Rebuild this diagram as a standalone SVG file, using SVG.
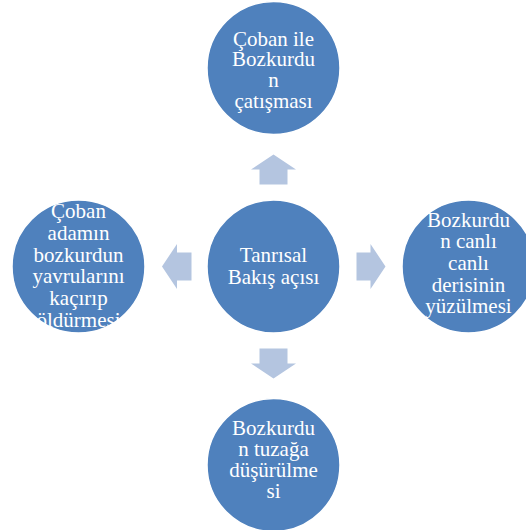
<svg xmlns="http://www.w3.org/2000/svg" width="526" height="530" viewBox="0 0 526 530">
  <style>
    .node circle { fill: #4F81BD; stroke: #FFFFFF; stroke-width: 1.5; }
    .node text { fill: #FFFFFF; font-family: "Liberation Serif", "Times New Roman", serif; font-size: 21px; text-anchor: middle; }
    .arrow { fill: #B4C5E0; }
  </style>
  <rect width="526" height="530" fill="#FFFFFF"/>
  <g id="connectors">
    <polygon class="arrow" points="273.5,154.5 296,169.5 287.5,169.5 287.5,184.5 259.5,184.5 259.5,169.5 251,169.5"/>
    <polygon class="arrow" points="273.5,378.5 296,363.5 287.5,363.5 287.5,348.5 259.5,348.5 259.5,363.5 251,363.5"/>
    <polygon class="arrow" points="162,266.5 177,244 177,252.5 191.5,252.5 191.5,280.5 177,280.5 177,289"/>
    <polygon class="arrow" points="385.5,266.5 370.5,244 370.5,252.5 356.5,252.5 356.5,280.5 370.5,280.5 370.5,289"/>
  </g>
  <g id="node-center" class="node">
    <circle cx="273.5" cy="266.5" r="66.5"/>
    <text x="273.5" y="262">Tanrısal</text>
    <text x="273.5" y="284">Bakış açısı</text>
  </g>
  <g id="node-top" class="node">
    <circle cx="273.5" cy="68" r="66.5"/>
    <text x="273.5" y="46">Çoban ile</text>
    <text x="273.5" y="66">Bozkurdu</text>
    <text x="273.5" y="87">n</text>
    <text x="273.5" y="108">çatışması</text>
  </g>
  <g id="node-left" class="node">
    <circle cx="78.5" cy="266.5" r="66.5"/>
    <text x="78.5" y="218">Çoban</text>
    <text x="78.5" y="240">adamın</text>
    <text x="78.5" y="262">bozkurdun</text>
    <text x="78.5" y="283">yavrularını</text>
    <text x="78.5" y="305">kaçırıp</text>
    <text x="78.5" y="327">öldürmesi</text>
  </g>
  <g id="node-right" class="node">
    <circle cx="468.5" cy="266.5" r="66.5"/>
    <text x="468.5" y="227">Bozkurdu</text>
    <text x="468.5" y="248">n canlı</text>
    <text x="468.5" y="270">canlı</text>
    <text x="468.5" y="292">derisinin</text>
    <text x="468.5" y="313">yüzülmesi</text>
  </g>
  <g id="node-bottom" class="node">
    <circle cx="273.5" cy="465" r="66.5"/>
    <text x="273.5" y="435">Bozkurdu</text>
    <text x="273.5" y="456">n tuzağa</text>
    <text x="273.5" y="477">düşürülme</text>
    <text x="273.5" y="498">si</text>
  </g>
</svg>
